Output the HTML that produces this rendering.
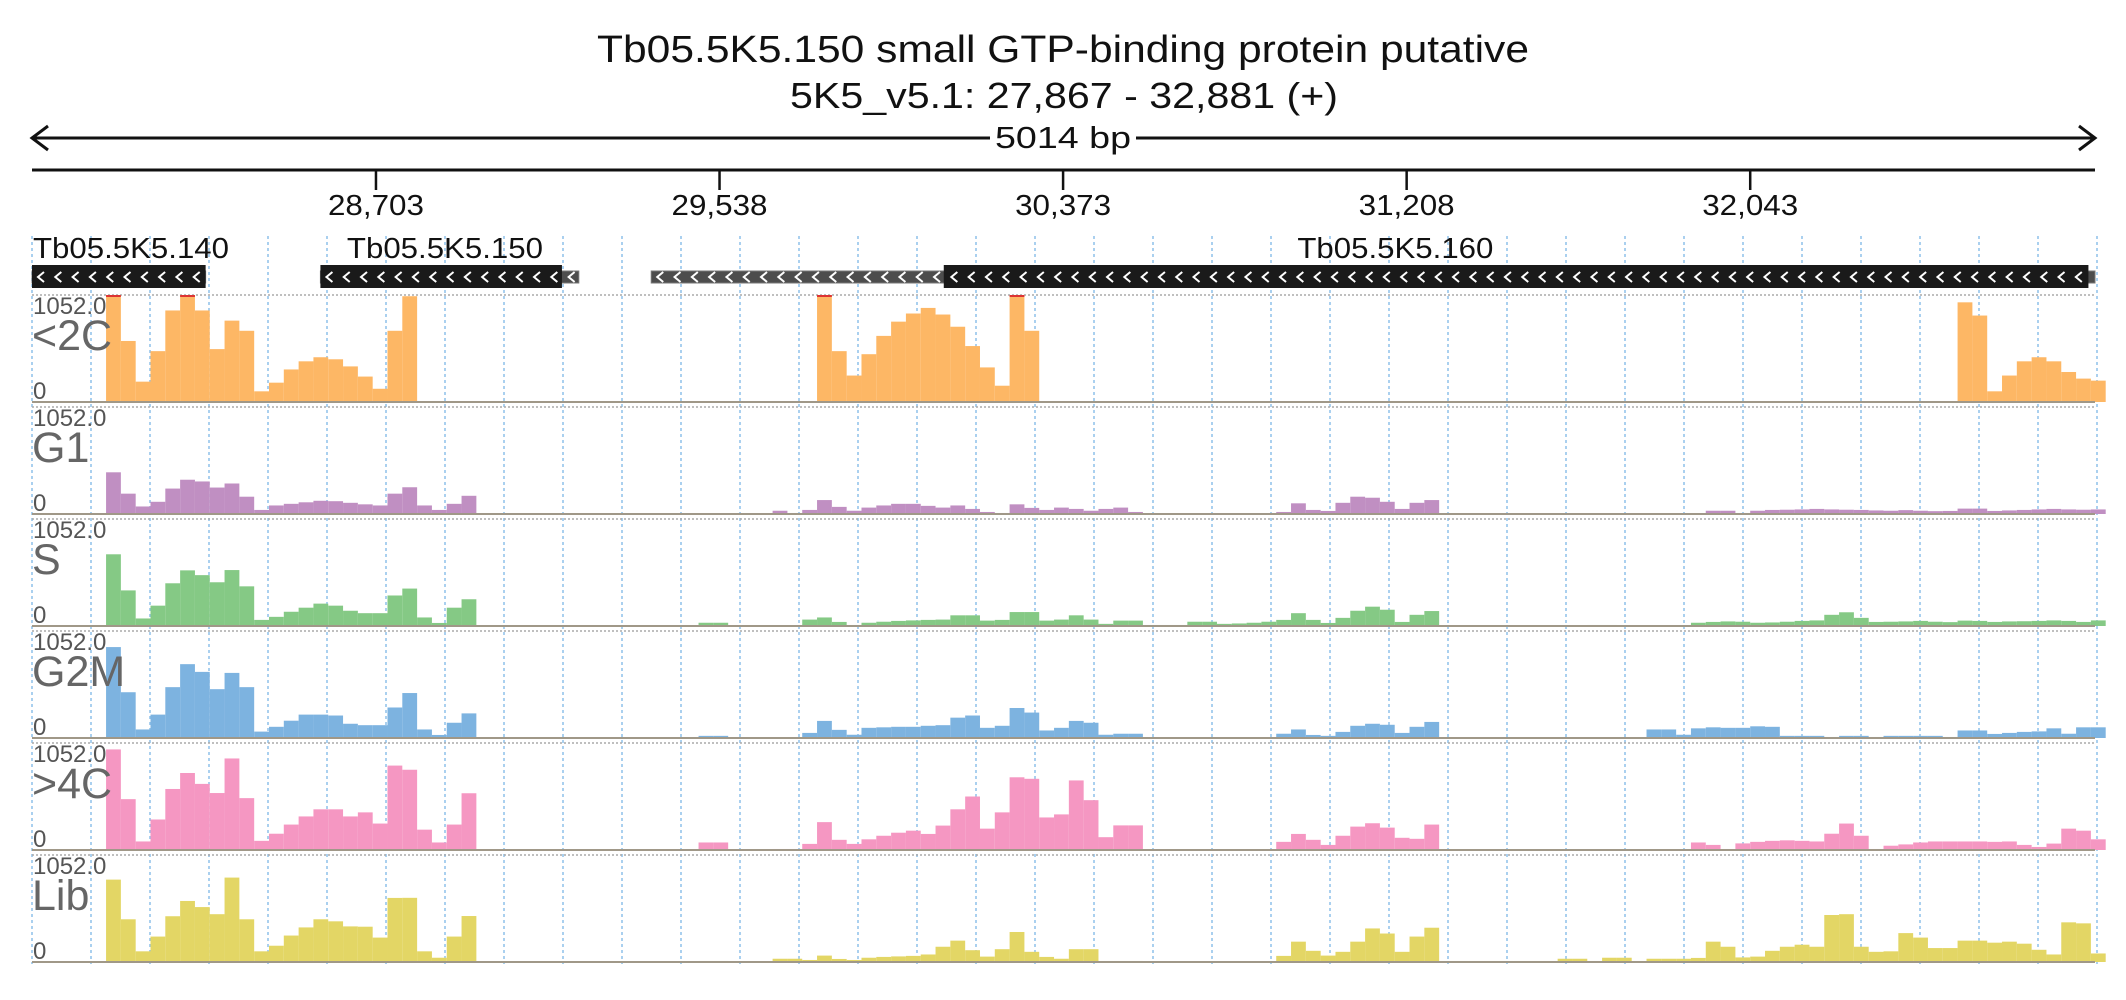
<!DOCTYPE html>
<html><head><meta charset="utf-8">
<style>
html,body{margin:0;padding:0;background:#fff;}
svg{display:block;font-family:"Liberation Sans",sans-serif;}
</style></head>
<body>
<svg id="chart" width="2126" height="1000" viewBox="0 0 2126 1000" xmlns="http://www.w3.org/2000/svg">
  <text x="1063" y="62" font-size="38" text-anchor="middle" textLength="932" lengthAdjust="spacingAndGlyphs" fill="#111">Tb05.5K5.150  small GTP-binding protein  putative</text>
  <text x="1064" y="108" font-size="36" text-anchor="middle" textLength="548" lengthAdjust="spacingAndGlyphs" fill="#111">5K5_v5.1: 27,867 - 32,881 (+)</text>
  <g>
    <line x1="33" y1="138" x2="2094" y2="138" stroke="#111" stroke-width="3"/>
    <polyline points="48,126 32,138 48,150" fill="none" stroke="#111" stroke-width="3"/>
    <polyline points="2079,126 2095,138 2079,150" fill="none" stroke="#111" stroke-width="3"/>
    <rect x="990" y="120" width="146" height="34" fill="#fff"/>
    <text x="1063" y="148" font-size="31" text-anchor="middle" textLength="136" lengthAdjust="spacingAndGlyphs" fill="#111">5014 bp</text>
  </g>
  <line x1="32" y1="170" x2="2095" y2="170" stroke="#111" stroke-width="3"/>
  <g id="ticks"></g>
  <g id="grid"></g>
  <g id="genes"></g>
  <g id="tracks"></g>
</svg>
<script>
const NS = "http://www.w3.org/2000/svg";
// ---- data ----
const regionStart = 27867;
const regionEnd = 32881;
const tickPositions = [28703, 29538, 30373, 31208, 32043];
const tickLabels = ["28,703", "29,538", "30,373", "31,208", "32,043"];
const binSize = 36; // bp per bin
const yMax = 1052;
const trackNames = ["<2C", "G1", "S", "G2M", ">4C", "Lib"];
const trackColors = ["#fdb765", "#c08fc2", "#85c985", "#7db3e0", "#f597c2", "#e3d665"];
const genes = [
  {name: "Tb05.5K5.140", start: 27867, end: 28289, utrStart: 27867, utrEnd: 28289, label: 27867},
  {name: "Tb05.5K5.150", start: 28568, end: 29155, utrStart: 28568, utrEnd: 29196, label: 28630},
  {name: "Tb05.5K5.160", start: 30083, end: 32865, utrStart: 29372, utrEnd: 32881, label: 30940}
];
const valsC2 = [0,0,0,0,0,1200,600,200,500,900, 1200,900,520,800,700,105,190,320,400,440, 420,350,250,130,700,1040,0,0,0,0, 0,0,0,0,0,0,0,0,0,0, 0,0,0,0,0,0,0,0,0,0, 0,0,0,1200,500,260,470,650,790,870, 925,860,740,550,340,160,1200,700,0,0, 0,0,0,0,0,0,0,0,0,0, 0,0,0,0,0,0,0,0,0,0, 0,0,0,0,0,0,0,0,0,0, 0,0,0,0,0,0,0,0,0,0, 0,0,0,0,0,0,0,0,0,0, 0,0,0,0,0,0,0,0,0,0, 980,850,105,260,400,440,400,295,230,210];
const valsG1 = [0,0,0,0,0,410,200,74,120,250, 337,320,260,300,170,40,84,100,115,130, 126,110,95,84,200,263,84,40,100,179, 0,0,0,0,0,0,0,0,0,0, 0,0,0,0,0,0,0,0,0,0, 32,10,40,137,70,32,63,84,100,100, 80,63,84,50,20,10,95,60,40,63, 50,32,50,63,20,0,0,0,0,0, 0,0,0,0,20,105,40,30,110,170, 160,120,50,110,137,0,0,0,0,0, 0,0,0,0,0,0,0,0,0,0, 0,0,0,32,32,10,32,40,42,45, 50,45,42,40,35,32,38,32,28,30, 53,53,30,35,40,45,50,45,42,45];
const valsS = [0,0,0,0,0,705,350,74,200,420, 547,500,430,550,390,60,90,140,180,220, 200,150,126,126,300,368,84,30,180,263, 0,0,0,0,0,0,0,0,0,0, 0,0,0,0,0,32,32,0,0,0, 0,0,63,84,40,10,32,42,50,55, 60,63,105,105,53,60,137,137,53,63, 105,63,21,53,53,10,10,10,42,42, 21,25,32,42,60,126,60,30,80,150, 190,160,40,110,147,0,0,0,0,0, 0,0,0,0,0,10,10,0,0,0, 0,0,32,40,45,42,32,35,42,50, 55,110,135,80,40,42,45,50,42,38, 53,50,40,45,47,50,55,50,40,55];
const valsG2M = [0,0,0,0,0,894,450,84,230,500, 726,650,480,640,500,63,110,170,230,230, 221,140,126,126,300,442,84,30,150,242, 0,0,0,0,0,0,0,0,0,0, 0,0,0,0,0,21,21,0,0,0, 0,0,50,168,80,32,100,105,110,110, 120,126,200,221,100,120,295,250,74,100, 168,150,32,42,42,0,0,0,0,0, 0,0,0,0,42,84,30,21,60,120, 140,130,50,110,158,0,0,0,0,0, 0,0,0,0,0,0,0,0,0,84, 84,32,95,105,100,100,115,110,21,21, 21,10,21,21,10,21,21,21,21,10, 74,74,40,50,60,65,95,42,105,105];
const vals4C = [0,0,0,0,0,989,500,84,300,600, 757,650,560,900,510,90,160,250,330,400, 400,330,370,260,830,789,200,74,250,558, 0,0,0,0,0,0,0,0,0,0, 0,0,0,0,0,74,74,0,0,0, 10,10,60,274,100,60,105,140,170,190, 158,240,400,526,210,370,715,700,320,350, 684,490,126,242,242,0,0,0,0,0, 0,0,0,0,80,158,100,50,140,230, 263,220,120,110,250,0,0,0,0,0, 0,0,0,0,0,0,0,0,0,0, 0,0,74,50,10,65,80,90,95,90, 84,160,260,140,10,42,55,74,84,84, 84,84,80,84,50,30,63,210,190,105];
const valsLib = [0,0,0,0,0,810,420,105,250,450, 600,540,470,830,420,105,160,260,340,420, 400,350,347,240,630,631,105,42,250,452, 0,0,0,0,0,0,0,0,0,0, 0,0,0,0,0,10,10,0,0,0, 32,32,20,63,30,20,42,50,55,60, 74,150,210,116,53,126,295,100,50,32, 126,126,10,10,10,0,0,0,0,0, 0,0,0,0,60,200,110,63,100,200, 330,280,100,250,337,10,10,10,10,10, 10,10,10,32,32,10,42,42,10,32, 32,32,40,200,150,45,53,110,150,170, 150,462,470,150,100,105,284,240,137,137, 210,210,190,200,180,120,74,390,380,84];
const trackValues = [valsC2, valsG1, valsS, valsG2M, vals4C, valsLib];

// ---- layout / scales ----
const X0 = 32, X1 = 2095;
function xScale(bp){ return X0 + (bp - regionStart) / (regionEnd - regionStart) * (X1 - X0); }
const trackTop0 = 295, trackPitch = 112, trackH = 107;
function yScale(v, k){ const base = trackTop0 + trackPitch*k + trackH; return base - Math.min(v, yMax)/yMax*trackH; }

const svg = document.getElementById('chart');
function mk(tag, attrs, parent){ const e = document.createElementNS(NS, tag); for (const k in attrs) e.setAttribute(k, attrs[k]); parent.appendChild(e); return e; }

// ticks
const tg = document.getElementById('ticks');
tickPositions.forEach((p, i) => {
  const x = xScale(p);
  const l = mk('line', {x1:x, y1:170, x2:x, y2:190, stroke:'#111', 'stroke-width':2.5}, tg);
  
  
  const t = mk('text', {x:x, y:215, 'font-size':29, 'text-anchor':'middle', fill:'#111', textLength:96, lengthAdjust:'spacingAndGlyphs'}, tg);
  t.textContent = tickLabels[i];
  
  
});

// grid
const gg = document.getElementById('grid');
for (let k = 0; k <= 35; k++) {
  const x = X0 + k*59;
  const l = mk('line', {x1:x, y1:236, x2:x, y2:964, stroke:'#8ec0ea', 'stroke-width':1.5, 'stroke-dasharray':'3,3'}, gg);
  
  
}

// genes
const geneG = document.getElementById('genes');
genes.forEach(g => {
  const grp = mk('g', {}, geneG);
  
  
  const ux0 = xScale(g.utrStart), ux1 = xScale(g.utrEnd);
  const bx0 = xScale(g.start), bx1 = xScale(g.end);
  mk('rect', {x:ux0, y:271, width:ux1-ux0, height:12, fill:'#4d4d4d', stroke:'#777', 'stroke-width':1}, grp);
  mk('rect', {x:bx0, y:265, width:bx1-bx0, height:23, fill:'#1a1a1a'}, grp);
  for (let x = ux0 + 6; x < ux1 - 6; x += 17.3) {
    mk('polyline', {points:(x+6)+',272 '+x+',277 '+(x+6)+',282', fill:'none', stroke:'#fff', 'stroke-width':2}, grp);
  }
  const t = mk('text', {x:xScale(g.label)+1, y:258, 'font-size':29, fill:'#111', textLength:196, lengthAdjust:'spacingAndGlyphs'}, grp);
  t.textContent = g.name;
});

// tracks
const trG = document.getElementById('tracks');
const binW = binSize / (regionEnd - regionStart) * (X1 - X0);
trackNames.forEach((name, k) => {
  const grp = mk('g', {}, trG);
  
  
  const top = trackTop0 + trackPitch*k, base = top + trackH;
  mk('line', {x1:X0, y1:top, x2:X1, y2:top, stroke:'#aaa', 'stroke-width':1.5, 'stroke-dasharray':'2,2'}, grp);
  trackValues[k].forEach((v, i) => {
    if (!v) return;
    const x = xScale(regionStart + i*binSize);
    const y = yScale(v, k);
    const r = mk('rect', {x:x, y:y, width:binW, height:base-y, fill:trackColors[k]}, grp);
    
    
    if (v > yMax) mk('rect', {x:x, y:y, width:binW, height:2, fill:'#d33'}, grp);
  });
  mk('line', {x1:X0, y1:base, x2:X1, y2:base, stroke:'#a09888', 'stroke-width':2}, grp);
  const mx = mk('text', {x:33, y:top+19, 'font-size':24, fill:'#555'}, grp);
  mx.textContent = '1052.0';
  
  
  const nm = mk('text', {x:32, y:top+55, 'font-size':43, fill:'#666'}, grp);
  nm.textContent = name;
  
  
  const z = mk('text', {x:33, y:base-3, 'font-size':24, fill:'#555'}, grp);
  z.textContent = '0';
  
  
});
</script>
</body></html>
